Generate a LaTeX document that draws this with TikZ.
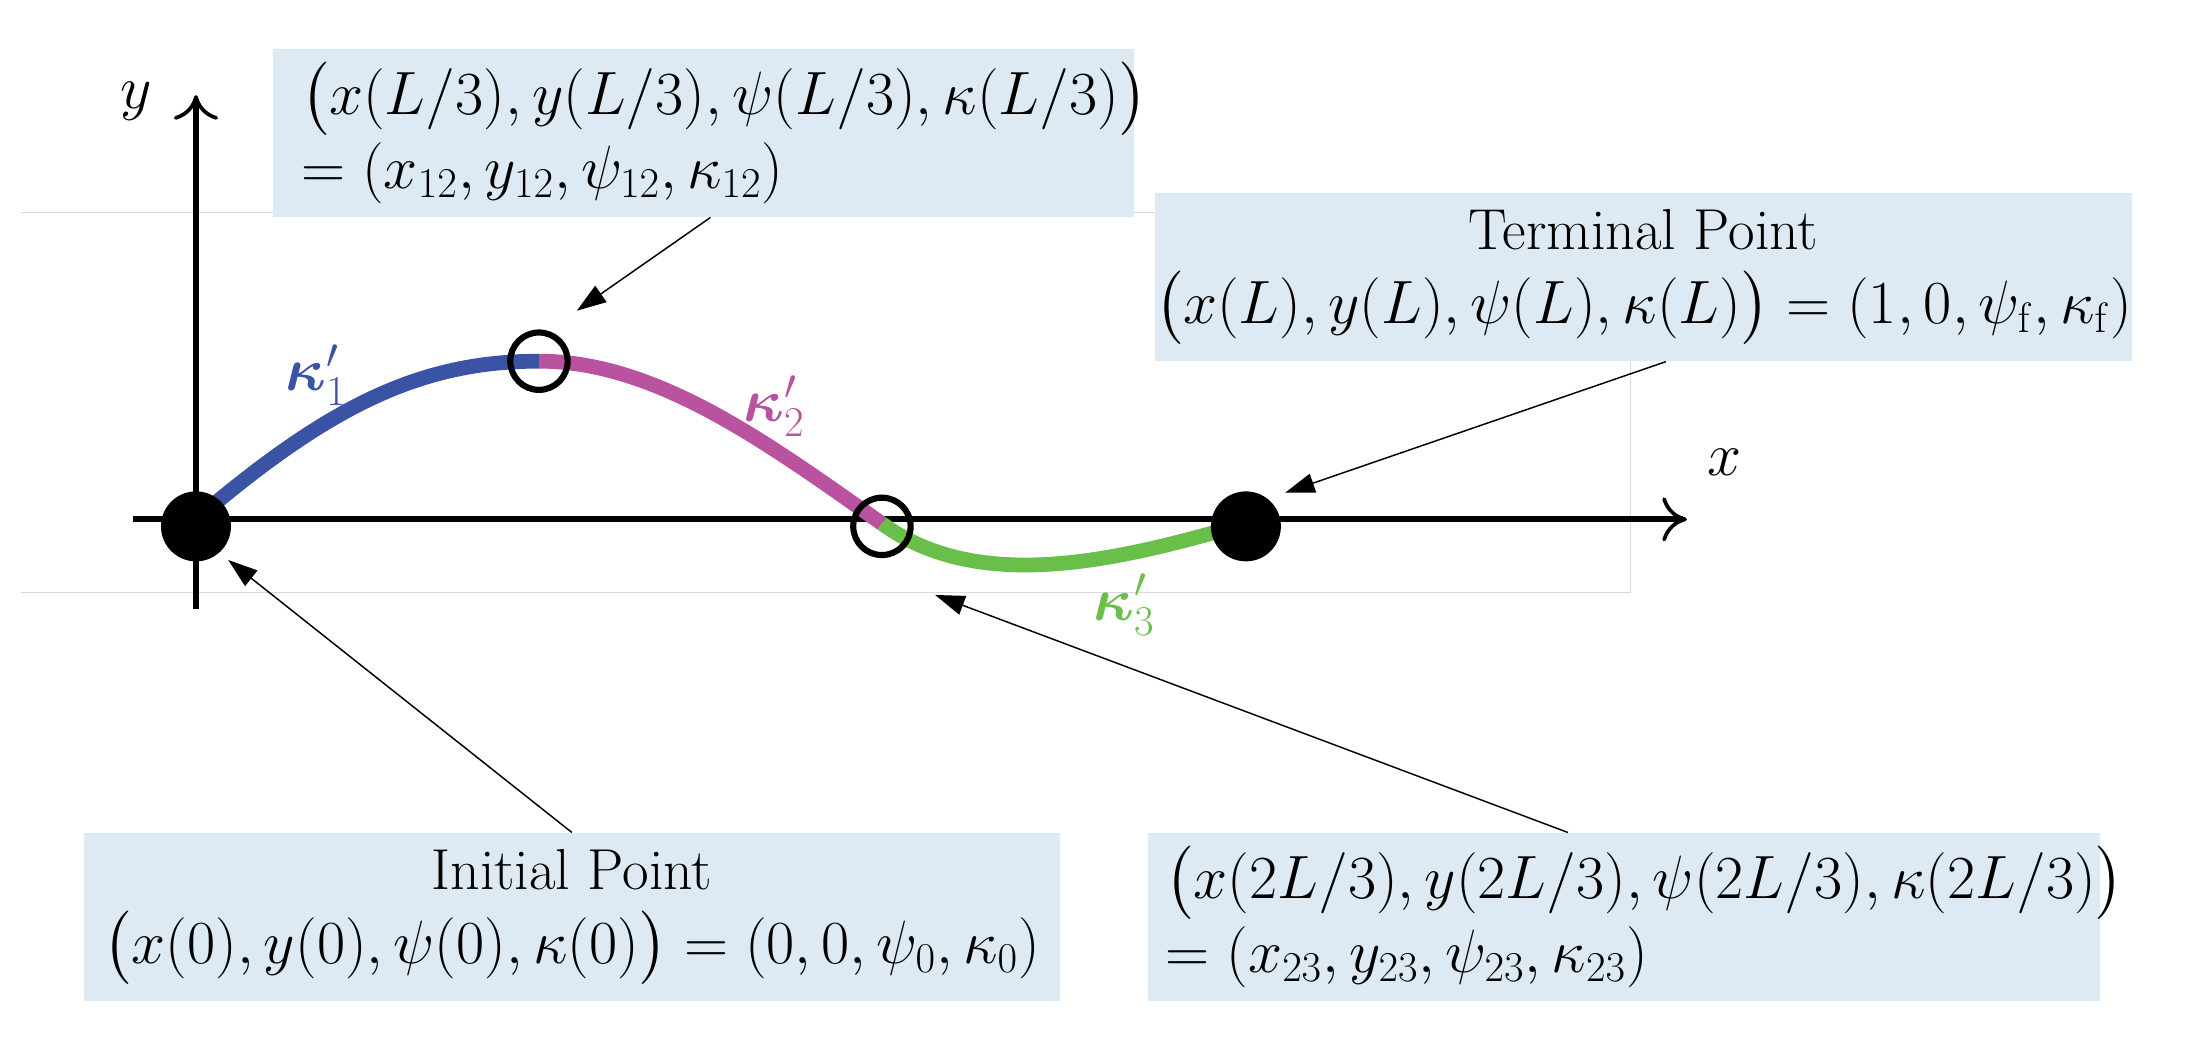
\documentclass[tikz,border=0pt]{standalone}
\usepackage{amsmath}
\usetikzlibrary{arrows.meta}
\definecolor{boxc}{HTML}{DDEAF3}
\definecolor{kblue}{HTML}{3A53A4}
\definecolor{kmag}{HTML}{B9529F}
\definecolor{kgreen}{HTML}{6ABF4B}
\begin{document}
\begin{tikzpicture}[x=0.02cm,y=-0.02cm,
  box/.style={fill=boxc,draw=none,minimum height=2.4cm,inner sep=0pt,font=\fontsize{23.5}{30}\selectfont},
  ptr/.style={-{Triangle[length=12pt,width=8pt]},line width=0.6pt},
  axis/.style={-{To[length=10pt,width=18pt,line width=1.5pt]},line width=2.5pt},
  seg/.style={line width=6pt},
  dot/.style={circle,fill=black,minimum size=1.0cm,inner sep=0pt},
  ring/.style={circle,draw=black,line width=2.5pt,minimum size=0.82cm,inner sep=0pt},
  kl/.style={font=\fontsize{23}{28}\selectfont}]
\useasboundingbox (0,0) rectangle (1568,754);
\draw[gray!30,line width=0.4pt] (15,152) -- (1165,152) -- (1165,423) -- (15,423);
% axes
\coordinate (yb) at (140,435); \coordinate (yt) at (140,68);
\coordinate (xl) at (95,371); \coordinate (xr) at (1205,371);
\draw[axis] (yb) -- (yt);
\draw[axis] (xl) -- (xr);
\node[kl] (ylab) at (97,72) {$y$};
\node[kl] (xlab) at (1232,330) {$x$};
% curve
\coordinate (p0) at (140,371); \coordinate (p1) at (385,258);
\coordinate (p2) at (630,374); \coordinate (p3) at (890,374);
\draw[seg,kblue] (p0) .. controls (235,290) and (300,258) .. (p1);
\draw[seg,kmag] (p1) .. controls (470,258) and (550,318) .. (p2);
\draw[seg,kgreen] (p2) .. controls (700,425) and (800,400) .. (p3);
\node[dot] (n0) at (140,376) {};
\node[dot] (n3) at (890,376) {};
\node[ring] (n1) at (385,258) {};
\node[ring] (n2) at (630,376) {};
\node[kl,kblue] (k1) at (226,268) {$\boldsymbol{\kappa}_1'$};
\node[kl,kmag] (k2) at (553,290) {$\boldsymbol{\kappa}_2'$};
\node[kl,kgreen] (k3) at (803,432) {$\boldsymbol{\kappa}_3'$};
% boxes
\node[box,minimum width=12.3cm,text width=11.5cm,align=left] (b1) at (502.5,95)
 {$\bigl(x(L/3),y(L/3),\psi(L/3),\kappa(L/3)\bigr)$\\ $=(x_{12},y_{12},\psi_{12},\kappa_{12})$};
\node[box,minimum width=13.04cm,align=center] (b2) at (1174,198)
 {Terminal Point\\ $\bigl(x(L),y(L),\psi(L),\kappa(L)\bigr)=(1,0,\psi_{\mathrm{f}},\kappa_{\mathrm{f}})$};
\node[box,minimum width=13.94cm,align=center] (b3) at (408.5,655)
 {Initial Point\\ $\bigl(x(0),y(0),\psi(0),\kappa(0)\bigr)=(0,0,\psi_0,\kappa_0)$};
\node[box,minimum width=13.6cm,text width=13.1cm,align=left] (b4) at (1160,655)
 {$\bigl(x(2L/3),y(2L/3),\psi(2L/3),\kappa(2L/3)\bigr)$\\ $=(x_{23},y_{23},\psi_{23},\kappa_{23})$};
% pointers
\coordinate (a1) at (412,222); \coordinate (a2) at (918,352);
\coordinate (a3) at (163,400); \coordinate (a4) at (668,425);
\draw[ptr] (b1.south) ++(5,0) -- (a1);
\draw[ptr] (b2.south) ++(16,0) -- (a2);
\draw[ptr] (b3.north) -- (a3);
\draw[ptr] (b4.north) ++(-40,0) -- (a4);
\end{tikzpicture}
\end{document}
